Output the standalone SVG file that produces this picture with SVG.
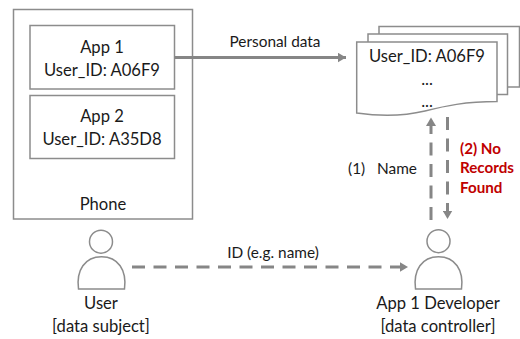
<svg xmlns="http://www.w3.org/2000/svg" width="520" height="339" viewBox="0 0 520 339">
<style>
text{font-family:"Lato","Carlito","Open Sans",sans-serif;font-size:16.6px;fill:#1a1a1a;text-anchor:middle}
.s{font-size:15.4px}
.b{fill:#fff;stroke:#8c8c8c;stroke-width:1.5}
.c{fill:none;stroke:#868686;stroke-width:3}
.d{stroke-dasharray:13 8.5}
.r{fill:#c00000;font-weight:700;text-anchor:start;font-size:15.2px}
</style>
<defs>
<marker id="a" markerUnits="userSpaceOnUse" markerWidth="10" markerHeight="10" refX="8.5" refY="5" orient="auto"><path d="M0 0L8.5 5L0 10Z" fill="#868686"/></marker>
</defs>
<rect width="520" height="339" fill="#fff"/>
<g id="phone"><rect class="b" x="13.5" y="9.5" width="179" height="209.500"/><text x="103" y="210">Phone</text></g>
<g id="app1"><rect class="b" x="30" y="25.500" width="144.500" height="63.500"/><text x="102" y="53">App 1</text><text x="102" y="76">User_ID: A06F9</text></g>
<g id="app2"><rect class="b" x="30" y="95.500" width="144.500" height="63"/><text x="102" y="122">App 2</text><text x="102" y="145">User_ID: A35D8</text></g>
<g id="records">
<path class="b" d="M379 26.500H519.500V87H379Z"/>
<path class="b" d="M368 34H507.500V94.500H368Z"/>
<path class="b" d="M356.700 42H497V101.500C465 101.500 445 106 425 111C400 117 378 116 356.700 113Z"/>
<text x="427" y="62">User_ID: A06F9</text>
<text x="427" y="85">...</text>
<text x="427" y="107">...</text>
</g>
<g id="user"><circle class="b" cx="101" cy="241.700" r="11.500"/><path class="b" d="M78.500 289C76 270 85 256.700 101.500 256.700C118 256.700 127 270 124.500 289Z"/><text x="101" y="309">User</text><text x="101" y="332">[data subject]</text></g>
<g id="developer"><circle class="b" cx="438.500" cy="241.200" r="11.500"/><path class="b" d="M415.500 289C413 270 422 256.700 438.500 256.700C455 256.700 464 270 461.500 289Z"/><text x="438" y="309">App 1 Developer</text><text x="438" y="332">[data controller]</text></g>
<g id="connectors">
<path class="c" marker-end="url(#a)" d="M174.500 57.500H346"/>
<path class="c d" marker-end="url(#a)" d="M132 267H408"/>
<path class="c d" marker-end="url(#a)" d="M431 220V117.500"/>
<path class="c d" marker-end="url(#a)" d="M447.500 117V219"/>
</g>
<g id="labels">
<text class="s" x="275" y="47">Personal data</text>
<text class="s" x="273" y="258">ID (e.g. name)</text>
<text class="s" x="382.500" y="174" xml:space="preserve">(1)   Name</text>
<text class="r" x="460" y="154">(2) No</text>
<text class="r" x="460" y="173">Records</text>
<text class="r" x="460" y="193">Found</text>
</g>
</svg>
